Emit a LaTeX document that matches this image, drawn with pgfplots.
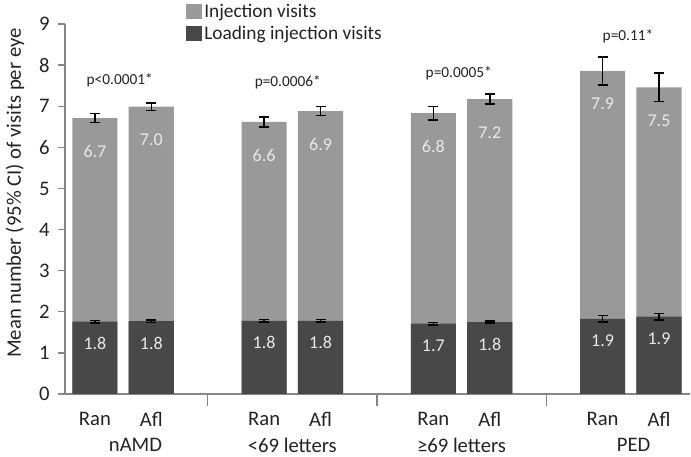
\documentclass[border=0pt]{standalone}
\usepackage{fontspec}
\setmainfont{Carlito}
\usepackage{pgfplots}
\pgfplotsset{compat=1.18}
\usepackage{pgfplotstable}
\definecolor{lightbar}{RGB}{153,153,153}
\definecolor{darkbar}{RGB}{72,72,72}
\definecolor{axisgray}{RGB}{134,134,134}
\definecolor{lbl}{RGB}{232,232,232}
\definecolor{txt}{RGB}{35,35,35}

\pgfplotstableread{
x y err label
0 6.71 0.11 6.7
1 6.99 0.09 7.0
3 6.62 0.12 6.6
4 6.88 0.11 6.9
6 6.83 0.16 6.8
7 7.17 0.12 7.2
9 7.86 0.34 7.9
10 7.46 0.35 7.5
}\totaltab
\pgfplotstableread{
x y err label
0 1.76 0.03 1.8
1 1.77 0.03 1.8
3 1.78 0.03 1.8
4 1.78 0.03 1.8
6 1.71 0.03 1.7
7 1.75 0.03 1.8
9 1.83 0.08 1.9
10 1.88 0.08 1.9
}\loadtab

\begin{document}
\begin{tikzpicture}
\begin{axis}[name=ax, scale only axis, width=468.75pt, height=277.5pt,
  xmin=-0.53, xmax=10.55, ymin=0, ymax=9,
  ybar, bar shift=0pt, bar width=0.8,
  axis x line*=bottom, axis y line*=left,
  axis line style={axisgray, line width=1pt, -},
  ytick={0,1,...,9},
  ytick style={axisgray, line width=1pt},
  tick align=outside, major tick length=5pt,
  xtick={0,1,3,4,6,7,9,10},
  xticklabels={Ran,Afl,Ran,Afl,Ran,Afl,Ran,Afl},
  xtick style={draw=none},
  extra x ticks={2,5,8}, extra x tick labels={},
  extra x tick style={xtick style={draw=axisgray, line width=1pt}, major tick length=9pt},
  tick label style={font=\fontsize{15.5}{18}\selectfont, text=txt},
  /pgf/number format/assume math mode=true,
  yticklabel style={xshift=-3pt},
  xticklabel style={anchor=center, yshift=-14pt},
  ylabel={Mean number (95\% CI) of visits per eye},
  ylabel style={at={(axis description cs:-0.08,0.543)}, anchor=center, font=\fontsize{15.5}{18}\selectfont, text=txt},
  legend style={at={(axis description cs:0.1936,1.061)}, anchor=north west, draw=none, fill=none,
    inner sep=0pt, font=\fontsize{14.5}{17}\selectfont, text=txt, row sep=1pt,
    every odd column/.style={column sep=3pt}},
  legend cell align=left,
  legend image code/.code={\fill[#1, draw=none] (0pt,-5pt) rectangle (11.5pt,6pt);},
  clip=false,
]
\addplot[fill=lightbar, draw=none,
  error bars/.cd, y dir=both, y explicit,
  error bar style={black, line width=1.2pt},
  error mark options={rotate=90, black, mark size=3.75pt, line width=1.2pt}]
  table[x=x, y=y, y error=err] {\totaltab};
\addlegendentry{Injection visits}
\addplot[fill=darkbar, draw=none,
  error bars/.cd, y dir=both, y explicit,
  error bar style={black, line width=1.2pt},
  error mark options={rotate=90, black, mark size=3.75pt, line width=1.2pt}]
  table[x=x, y=y, y error=err] {\loadtab};
\addlegendentry{Loading injection visits}

\addplot[draw=none, fill=none, forget plot,
  nodes near coords, point meta=explicit symbolic,
  every node near coord/.append style={text=lbl, font=\fontsize{13.5}{16}\selectfont, anchor=center, yshift=-25pt}]
  table[x=x, y=y, meta=label] {\totaltab};
\addplot[draw=none, fill=none, forget plot,
  nodes near coords, point meta=explicit symbolic,
  every node near coord/.append style={text=lbl, font=\fontsize{13.5}{16}\selectfont, anchor=center, yshift=-16.5pt}]
  table[x=x, y=y, meta=label] {\loadtab};

\begin{scope}[every node/.style={font=\fontsize{11.5}{13}\selectfont, text=txt}]
\node at (axis cs:0.44,7.64) {p<0.0001*};
\node at (axis cs:3.42,7.57) {p=0.0006*};
\node at (axis cs:6.45,7.81) {p=0.0005*};
\node at (axis cs:9.45,8.69) {p=0.11*};
\end{scope}
\begin{scope}[every node/.style={font=\fontsize{15.5}{18}\selectfont, text=txt, anchor=center, inner sep=1pt}]
\node at (axis cs:0.72,0) [yshift=-38.5pt] {nAMD};
\node at (axis cs:3.5,0) [yshift=-38.5pt] {<69 letters};
\node at (axis cs:6.5,0) [yshift=-38.5pt] {≥69 letters};
\node at (axis cs:9.55,0) [yshift=-38.5pt] {PED};
\end{scope}
\end{axis}
\pgfresetboundingbox
\path[use as bounding box] ([xshift=-48.75pt,yshift=-47.25pt]ax.south west) rectangle ([xshift=0.75pt,yshift=18pt]ax.north east);
\end{tikzpicture}
\end{document}
